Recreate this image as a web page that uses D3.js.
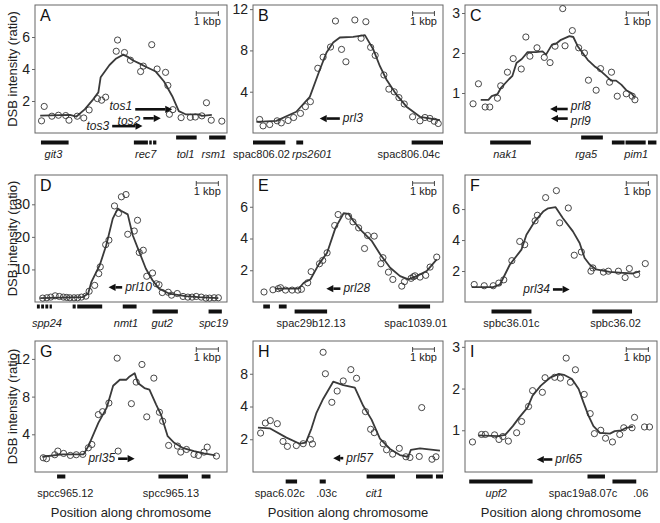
<!DOCTYPE html>
<html>
<head>
<meta charset="utf-8">
<script src="https://cdn.jsdelivr.net/npm/d3@7"></script>
<style>
body { margin: 0; background: #fff; }
svg { display: block; font-family: "Liberation Sans", Arial, sans-serif; }
</style>
</head>
<body>
<svg id="fig" width="660" height="523"></svg>
<script>
// x positions are % of the plotted window (each window is ~9-10 kbp wide)

// --- A: rec7 region
var ptsA = [[3.4,0.76],[4.8,1.66],[8.8,1.05],[12.2,1.11],[16.0,1.09],[17.7,0.80],[22.0,1.05],[25.4,0.94],[28.2,1.44],[32.5,2.15],[34.7,2.05],[36.8,2.24],[42.3,5.11],[43.0,5.81],[46.6,5.03],[49.7,4.55],[55.0,3.84],[56.4,4.18],[60.8,5.52],[63.6,4.0],[68.0,3.79],[69.2,2.97],[71.8,1.46],[70.0,1.17],[76.1,0.96],[80.9,0.98],[83.5,1.0],[86.9,1.07],[89.3,1.89],[91.8,0.80],[97.3,0.74]];
var lineA = [[2.7,1.09],[18.2,1.13],[21.6,1.03],[25.9,1.48],[30.2,2.09],[33.0,2.54],[34.2,3.49],[38.8,4.25],[42.3,4.66],[46.0,4.9],[48.3,4.76],[50.9,4.55],[54.3,4.35],[57.7,4.14],[62.9,3.84],[67.2,3.22],[71.5,2.3],[74.9,1.37],[78.4,1.17],[85.2,1.17],[86.9,1.07],[92.1,1.13]];
var genesA = [
  {s: 3.1, e: 17.5, strand: 2, name: "git3", at: 9.6, it: true},
  {s: 51.5, e: 58.8, strand: 2, name: "rec7", at: 57.7, it: true},
  {s: 59.5, e: 60.8, strand: 2}, {s: 61.5, e: 63.2, strand: 2},
  {s: 73.5, e: 84.2, strand: 1, name: "tol1", at: 78.4, it: true},
  {s: 90.7, e: 99.3, strand: 1, name: "rsm1", at: 93.1, it: true}
];
var arrowsA = [
  {name: "tos1", tail: 52.2, head: 71.5, y: 1.48},
  {name: "tos2", tail: 56.4, head: 65.5, y: 0.92},
  {name: "tos3", tail: 40.2, head: 56.0, y: 0.43}
];

// --- B: prl3
var ptsB = [[3.5,1.31],[5.3,0.69],[8.8,0.82],[12.7,1.18],[14.9,0.98],[18.5,1.21],[21.4,1.50],[25.0,1.90],[27.6,2.55],[30.2,3.04],[34.1,6.27],[36.9,7.35],[40.8,8.33],[43.4,10.85],[46.6,8.1],[48.9,6.9],[53.6,10.95],[56.9,9.18],[59.4,10.78],[61.9,8.3],[64.3,7.52],[68.9,5.62],[71.5,4.25],[74.3,3.99],[76.8,3.43],[79.6,2.81],[84.0,1.57],[87.9,1.18],[90.5,1.50],[93.1,1.41],[95.4,1.14],[97.5,0.92]];
var lineB = [[1.8,1.08],[12.3,1.18],[22.8,2.06],[29.9,3.5],[35.1,6.1],[38.7,7.8],[42.2,8.76],[45.7,9.25],[52.7,9.31],[58.9,9.48],[63.3,8.1],[66.8,6.47],[70.3,5.16],[75.6,3.69],[80.8,2.55],[87.9,1.57],[98.4,1.24]];
var genesB = [
  {s: 0, e: 17, strand: 2, name: "spac806.02", at: 4.5},
  {s: 22.8, e: 26.4, strand: 2, name: "rps2601", at: 31, it: true},
  {s: 83.5, e: 100, strand: 2, name: "spac806.04c", at: 82}
];
var arrowsB = [{name: "prl3", tail: 45.7, head: 35.1, y: 1.4}];

// --- C: prl8 / prl9
var ptsC = [[4.2,0.73],[7.0,1.23],[10.5,0.65],[12.9,0.65],[16.9,0.87],[18.6,1.18],[22.1,1.52],[25.1,1.86],[29.3,1.6],[31.7,2.4],[33.8,1.92],[37.5,2.13],[41.3,1.89],[44.3,1.76],[46.9,2.17],[50.9,3.11],[52.1,2.18],[55.9,2.56],[59.2,2.13],[62.2,2.0],[64.3,1.32],[68.3,1.07],[70.6,1.61],[75.3,1.27],[76.3,1.52],[79.3,0.92],[84.0,0.98],[87.1,0.92],[88.5,0.83]];
var lineC = [[8.2,0.83],[12.2,0.83],[13.9,0.92],[16.9,0.97],[18.6,1.12],[23,1.35],[24.7,1.43],[26.8,1.75],[29.6,1.85],[32.6,2.02],[36.9,2.02],[40.4,2.04],[42.2,1.96],[45.3,2.21],[47.4,2.23],[50,2.33],[54.4,2.42],[56.4,2.4],[58.7,2.17],[61.3,2.0],[63.9,1.83],[67.4,1.67],[70,1.58],[73.5,1.43],[76.1,1.31],[78.7,1.31],[81.4,1.21],[84,1.07],[86.6,1.0],[88.3,0.89]];
var genesC = [
  {s: 13.1, e: 34.3, strand: 2, name: "nak1", at: 20.9, it: true},
  {s: 60.5, e: 71.8, strand: 1, name: "rga5", at: 63.1, it: true},
  {s: 76.5, e: 83.1, strand: 2}, {s: 83.6, e: 94.1, strand: 2, name: "pim1", at: 89.2, it: true},
  {s: 95.3, e: 99.7, strand: 2}
];
var arrowsC = [
  {name: "prl8", tail: 53.5, head: 44.3, y: 0.6},
  {name: "prl9", tail: 53.5, head: 44.8, y: 0.36}
];

// --- D: prl10
var ptsD = [[4.0,1.2],[6.2,1.3],[8.2,1.5],[10.5,1.9],[12.7,1.7],[14.8,1.5],[16.5,1.4],[18.2,1.3],[20.3,1.3],[22.2,1.3],[24.2,1.5],[26.5,1.8],[28.2,3.3],[31.1,5.1],[33.2,8.7],[34.0,10.8],[36.8,17.6],[38.5,19.0],[41.4,29.5],[43.5,27.2],[45.0,32.3],[47.4,33.0],[48.3,20.8],[51.7,21.8],[53.4,25.1],[54.3,15.2],[56.4,15.9],[58.2,7.9],[61.2,8.9],[63.2,5.6],[64.6,5.3],[66.3,2.9],[69.4,3.0],[71.1,2.1],[74.1,2.6],[77.1,1.7],[79.6,1.5],[81.8,1.5],[84.0,1.7],[86.6,1.5],[89.0,1.2],[90.9,1.2],[93.3,1.3],[95.5,1.3]];
var lineD = [[2.7,1.2],[25,1.5],[27.7,2.6],[29.4,6.2],[33.7,11.3],[37.1,17.4],[40.5,25.6],[43.1,28.7],[44.8,28.0],[48.3,26.9],[50.9,20.5],[54.3,15.4],[57.7,10.3],[61.2,6.7],[64.6,4.1],[69.8,2.6],[78.4,1.8],[85.2,1.5],[95.5,1.2]];
var genesD = [
  {s: 1, e: 2.5, strand: 1}, {s: 3.2, e: 4.7, strand: 1, name: "spp24", at: 6.2, it: true},
  {s: 5.4, e: 6.9, strand: 1}, {s: 7.6, e: 8.8, strand: 1},
  {s: 19.6, e: 21.2, strand: 1}, {s: 22, e: 35, strand: 1},
  {s: 45.7, e: 52.9, strand: 1, name: "nmt1", at: 47.4, it: true},
  {s: 61.2, e: 74.4, strand: 2, name: "gut2", at: 66.3, it: true},
  {s: 90.4, e: 97.3, strand: 2, name: "spc19", at: 93, it: true}
];
var arrowsD = [{name: "prl10", tail: 45.4, head: 38.3, y: 4.5}];

// --- E: prl28
var ptsE = [[5.8,0.63],[10.5,0.77],[13.3,0.84],[14.5,0.9],[17.1,0.75],[20.6,0.75],[23.6,0.75],[25.5,0.8],[28.8,1.21],[30.6,1.91],[35.0,2.41],[36.7,2.62],[39.0,3.1],[43.0,4.82],[44.8,5.51],[50.3,5.4],[52.6,5.05],[55.6,4.67],[58.7,3.37],[60.3,4.19],[63.8,4.15],[67.3,2.41],[68.4,2.79],[71.3,1.88],[73.6,1.42],[78.3,1.0],[79.7,1.28],[83.2,1.49],[84.4,1.59],[85.3,1.65],[87.9,1.57],[90.9,1.68],[93.2,2.2],[96.7,2.83]];
var lineE = [[11.9,0.84],[24.1,0.84],[26.7,1.21],[30.2,1.42],[34.6,2.37],[39,3.1],[43.4,4.67],[47.7,5.59],[50.3,5.55],[53,5.09],[57.3,4.46],[62.6,3.83],[67,2.99],[72.2,2.16],[77.4,1.63],[81.8,1.42],[86.2,1.63],[91.4,1.95],[96.7,2.68]];
var genesE = [
  {s: 5.4, e: 8.9, strand: 1}, {s: 13.6, e: 17.7, strand: 1},
  {s: 21.9, e: 39, strand: 2, name: "spac29b12.13", at: 30.6},
  {s: 76.6, e: 93.2, strand: 1, name: "spac1039.01", at: 85.7}
];
var arrowsE = [{name: "prl28", tail: 46, head: 38.6, y: 0.84}];

// --- F: prl34
var ptsF = [[4.8,1.13],[10.0,1.05],[14.7,1.05],[17.6,1.22],[20.2,1.43],[24.4,2.67],[28.5,3.91],[31.1,3.7],[36.5,5.24],[37.7,5.6],[42.0,6.74],[47.6,7.19],[49.3,5.11],[53.8,6.07],[56.9,3.02],[60.6,3.23],[65.6,1.99],[66.6,2.2],[72.1,1.93],[74.7,1.99],[79.9,1.99],[83.4,1.58],[85.6,2.16],[89.4,1.78],[93.9,2.48]];
var lineF = [[3.5,0.96],[14.7,0.96],[18.2,1.13],[23.4,2.42],[29.4,3.38],[32,4.34],[36.3,5.2],[40.7,5.84],[43.3,6.05],[47.2,6.12],[51,5.41],[56.2,4.56],[59.7,3.81],[62.3,2.84],[64.9,2.42],[68.3,2.1],[75.3,1.95],[82.2,1.88],[87.4,1.84],[91.2,1.99]];
var genesF = [
  {s: 13.8, e: 34.6, strand: 2, name: "spbc36.01c", at: 24.2},
  {s: 66.3, e: 87, strand: 2, name: "spbc36.02", at: 78.4}
];
var arrowsF = [{name: "prl34", tail: 45.8, head: 54.5, y: 0.81}];

// --- G: prl35
var ptsG = [[4.3,1.51],[6.0,1.41],[10.3,1.83],[11.9,2.22],[14.9,1.97],[18.4,1.76],[21.5,1.83],[24.9,1.87],[27.8,2.57],[29.6,2.92],[33.0,6.09],[35.2,6.4],[38.5,7.32],[42.8,12.08],[43.3,2.22],[50.2,7.25],[52.7,9.54],[55.7,11.41],[58.2,5.85],[61.9,9.96],[64.8,6.34],[66.5,5.39],[69.6,2.82],[74.2,2.75],[75.9,2.11],[78.9,2.39],[82.8,1.87],[85.1,1.76],[88.0,2.11],[89.7,2.64],[94.5,1.69]];
var lineG = [[3.8,1.62],[14.1,1.87],[25.3,1.87],[27.8,2.75],[33,5.21],[37.3,6.8],[40.7,9.15],[44.2,9.79],[47.6,9.79],[49.3,10.14],[51.9,10.49],[53.6,9.44],[57,8.91],[59.6,8.73],[63.1,7.15],[65.6,6.09],[69.1,3.8],[72.5,3.1],[76.8,2.57],[82.8,2.22],[88,1.97],[94,1.76]];
var genesG = [
  {s: 11.5, e: 15.8, strand: 1, name: "spcc965.12", at: 15.8},
  {s: 64.3, e: 79.7, strand: 1, name: "spcc965.13", at: 70.8},
  {s: 86.8, e: 91.4, strand: 1}
];
var arrowsG = [{name: "prl35", tail: 43.3, head: 51.9, y: 1.41}];

// --- H: prl57 (log2 axis)
var ptsH = [[4.0,2.28],[6.5,2.82],[9.1,2.97],[12.8,2.78],[15.8,1.91],[18.1,1.72],[22.8,1.75],[26.4,1.82],[30.2,1.99],[31.3,1.81],[36.9,12.6],[38.1,8.0],[41.5,4.37],[44.3,5.55],[47.5,6.87],[51.5,8.73],[54.5,7.27],[59.2,3.59],[61.9,2.47],[63.8,2.3],[68.5,1.82],[70.3,1.6],[73.5,1.46],[77.0,1.65],[80.5,1.38],[82.6,1.36],[87.5,1.39],[88.8,3.91],[94.2,1.31],[96.3,1.38]];
var lineH = [[2.6,2.56],[8.8,2.52],[17.6,2.07],[24.6,1.82],[27.8,1.86],[30.8,2.52],[33.4,3.5],[36.9,4.69],[42.2,6.76],[47.5,6.28],[53.6,5.97],[58,4.06],[62.4,3.03],[66.8,2.03],[72.1,1.63],[77.3,1.43],[81.7,1.38],[83.1,1.6],[87.9,1.65],[98.4,1.57]];
var genesH = [
  {s: 17.2, e: 23.2, strand: 2, name: "spac6.02c", at: 14.1},
  {s: 35.1, e: 38.3, strand: 2, name: ".03c", at: 38.7},
  {s: 59.8, e: 74.7, strand: 1, name: "cit1", at: 63.8, it: true},
  {s: 85.8, e: 94.6, strand: 1},
  {s: 96.3, e: 100, strand: 1}
];
var arrowsH = [{name: "prl57", tail: 47.5, head: 42.2, y: 1.34}];

// --- I: prl65
var ptsI = [[3.9,0.72],[8.6,0.9],[10.6,0.9],[15.4,0.89],[17.7,0.78],[19.7,0.85],[22.6,0.74],[26.9,0.94],[29.5,1.21],[33.1,1.57],[35.2,1.95],[40.3,1.91],[41.7,2.26],[46.7,2.27],[49.7,2.25],[52.7,2.73],[54.9,2.15],[57.5,2.45],[62.1,1.86],[65.2,1.4],[67.4,0.92],[70.7,1.0],[73.2,0.81],[76.8,0.72],[80.6,0.9],[82.7,1.06],[87.0,1.06],[88.3,1.31],[93.5,1.08],[96.1,1.08]];
var lineI = [[6.9,0.88],[17.2,0.86],[20.9,0.89],[24.9,1.1],[28.3,1.31],[32.6,1.55],[35.2,1.83],[39.5,2.07],[44.6,2.27],[48.9,2.35],[51.5,2.33],[55.7,2.23],[59.2,1.99],[61.7,1.67],[64.3,1.35],[66.9,1.1],[70.3,0.94],[75.5,0.92],[78,0.98],[81.5,1.0],[84,1.06],[87.5,1.09]];
var genesI = [
  {s: 2.2, e: 35.2, strand: 2, name: "upf2", at: 16.3, it: true},
  {s: 63.8, e: 72.9, strand: 1, name: "spac19a8.07c", at: 61.5},
  {s: 76.8, e: 89.2, strand: 2, name: ".06", at: 91.5}
];
var arrowsI = [{name: "prl65", tail: 45.5, head: 37.4, y: 0.3}];

var panels = [
  {id: "A", col: 0, row: 0, y: [0, 8],    ticks: [2, 4, 6],   pts: ptsA, line: lineA, genes: genesA, arrows: arrowsA},
  {id: "B", col: 1, row: 0, y: [0, 12.4], ticks: [4, 8, 12],  pts: ptsB, line: lineB, genes: genesB, arrows: arrowsB},
  {id: "C", col: 2, row: 0, y: [0, 3.2],  ticks: [1, 2, 3],   pts: ptsC, line: lineC, genes: genesC, arrows: arrowsC},
  {id: "D", col: 0, row: 1, y: [0, 39],   ticks: [10, 20, 30],pts: ptsD, line: lineD, genes: genesD, arrows: arrowsD},
  {id: "E", col: 1, row: 1, y: [0, 8],    ticks: [2, 4, 6],   pts: ptsE, line: lineE, genes: genesE, arrows: arrowsE},
  {id: "F", col: 2, row: 1, y: [0, 8.2],  ticks: [2, 4, 6],   pts: ptsF, line: lineF, genes: genesF, arrows: arrowsF},
  {id: "G", col: 0, row: 2, y: [0, 13.9], ticks: [4, 8, 12],  pts: ptsG, line: lineG, genes: genesG, arrows: arrowsG},
  {id: "H", col: 1, row: 2, y: [1, 16], log: true, ticks: [2, 4, 8], pts: ptsH, line: lineH, genes: genesH, arrows: arrowsH},
  {id: "I", col: 2, row: 2, y: [0, 3.14], ticks: [1, 2, 3],   pts: ptsI, line: lineI, genes: genesI, arrows: arrowsI}
];

// frame layout (pixels)
var cols = [[35, 227], [253, 443], [465, 657]];
var rows = [[5, 133], [175, 302], [341, 472]];

var svg = d3.select("#fig");
svg.append("rect").attr("width", 660).attr("height", 523).attr("fill", "#fff");

panels.forEach(function (p) {
  var x0 = cols[p.col][0], x1 = cols[p.col][1],
      y0 = rows[p.row][0], y1 = rows[p.row][1];
  var x = d3.scaleLinear().domain([0, 100]).range([x0, x1]);
  var y = (p.log ? d3.scaleLog().base(2) : d3.scaleLinear()).domain(p.y).range([y1, y0]);
  var g = svg.append("g");

  // frame
  g.append("rect")
    .attr("x", x0).attr("y", y0)
    .attr("width", x1 - x0).attr("height", y1 - y0)
    .attr("fill", "none").attr("stroke", "#666").attr("stroke-width", 1);

  // y axis
  var ax = g.append("g")
    .attr("transform", "translate(" + x0 + ",0)")
    .call(d3.axisLeft(y).tickValues(p.ticks).tickFormat(d3.format("d")).tickSize(3).tickPadding(2));
  ax.select(".domain").remove();
  ax.attr("font-family", null).attr("font-size", 14);
  ax.selectAll("line").attr("stroke", "#666");
  ax.selectAll("text").attr("fill", "#222");

  // running average line
  var line = d3.line().x(function (d) { return x(d[0]); }).y(function (d) { return y(d[1]); });
  g.append("path").datum(p.line)
    .attr("d", line)
    .attr("fill", "none").attr("stroke", "#3a3a3a").attr("stroke-width", 1.8)
    .attr("stroke-linejoin", "round");

  // probe points
  g.selectAll("circle.pt").data(p.pts).enter().append("circle")
    .attr("class", "pt")
    .attr("cx", function (d) { return x(d[0]); })
    .attr("cy", function (d) { return y(d[1]); })
    .attr("r", 3.1)
    .attr("fill", "none").attr("stroke", "#333").attr("stroke-width", 0.9);

  // hotspot arrows
  var labels = [];
  p.arrows.forEach(function (a) {
    var xt = x(a.tail), xh = x(a.head), ya = y(a.y);
    var dir = xh > xt ? 1 : -1, hl = 7;
    g.append("line")
      .attr("x1", xt).attr("y1", ya).attr("x2", xh - dir * hl).attr("y2", ya)
      .attr("stroke", "#111").attr("stroke-width", 2.6);
    g.append("path")
      .attr("d", "M" + xh + "," + ya + "L" + (xh - dir * hl) + "," + (ya - 3.6) + "L" + (xh - dir * hl) + "," + (ya + 3.6) + "Z")
      .attr("fill", "#111");
    labels.push(g.append("text")
      .attr("x", xt - dir * 3).attr("y", ya + 3.5)
      .attr("text-anchor", dir > 0 ? "end" : "start")
      .attr("font-size", 12).attr("font-style", "italic").attr("fill", "#222")
      .text(a.name));
  });
  // stacked arrow labels: push apart the ones that collide
  for (var i = 0; i < labels.length; i++) {
    for (var j = 0; j < labels.length; j++) {
      if (i === j) continue;
      var a = labels[i].node().getBBox(), b = labels[j].node().getBBox();
      if (a.y < b.y && a.x < b.x + b.width && b.x < a.x + a.width && a.y + a.height > b.y) {
        var ov = a.y + a.height - b.y + 0.5;
        labels[i].attr("y", +labels[i].attr("y") - ov / 2);
        labels[j].attr("y", +labels[j].attr("y") + ov / 2);
      }
    }
  }

  // genes under the frame
  g.selectAll("rect.gene").data(p.genes).enter().append("rect")
    .attr("class", "gene")
    .attr("x", function (d) { return x(d.s); })
    .attr("width", function (d) { return x(d.e) - x(d.s); })
    .attr("y", function (d) { return y1 + (d.strand === 1 ? 2.5 : 7.5); })
    .attr("height", 4)
    .attr("fill", "#111");
  g.selectAll("text.gene").data(p.genes.filter(function (d) { return d.name; })).enter().append("text")
    .attr("class", "gene")
    .attr("x", function (d) { return x(d.at); })
    .attr("y", y1 + 24.5)
    .attr("text-anchor", "middle")
    .attr("font-size", 11)
    .attr("font-style", function (d) { return d.it ? "italic" : null; })
    .attr("fill", "#222")
    .text(function (d) { return d.name; });

  // 1 kbp scale bar
  var sb0 = x(84), sb1 = x(95.5), sy = y0 + 8;
  g.append("path")
    .attr("d", "M" + sb0 + "," + (sy - 2) + "V" + (sy + 3) + "M" + sb0 + "," + sy + "H" + sb1 + "M" + sb1 + "," + (sy - 2) + "V" + (sy + 3))
    .attr("fill", "none").attr("stroke", "#333").attr("stroke-width", 0.9);
  g.append("text")
    .attr("x", (sb0 + sb1) / 2).attr("y", y0 + 20)
    .attr("text-anchor", "middle").attr("font-size", 11).attr("fill", "#222")
    .text("1 kbp");

  // panel letter
  g.append("text")
    .attr("x", x0 + 5).attr("y", y0 + 16)
    .attr("font-size", 16).attr("fill", "#111")
    .text(p.id);

  if (p.col === 0) {
    g.append("text")
      .attr("transform", "translate(17," + ((y0 + y1) / 2) + ") rotate(-90)")
      .attr("text-anchor", "middle").attr("font-size", 13).attr("fill", "#222")
      .text("DSB intensity (ratio)");
  }
  if (p.row === 2) {
    g.append("text")
      .attr("x", (x0 + x1) / 2).attr("y", 517)
      .attr("text-anchor", "middle").attr("font-size", 13).attr("fill", "#222")
      .text("Position along chromosome");
  }
});
</script>
</body>
</html>
